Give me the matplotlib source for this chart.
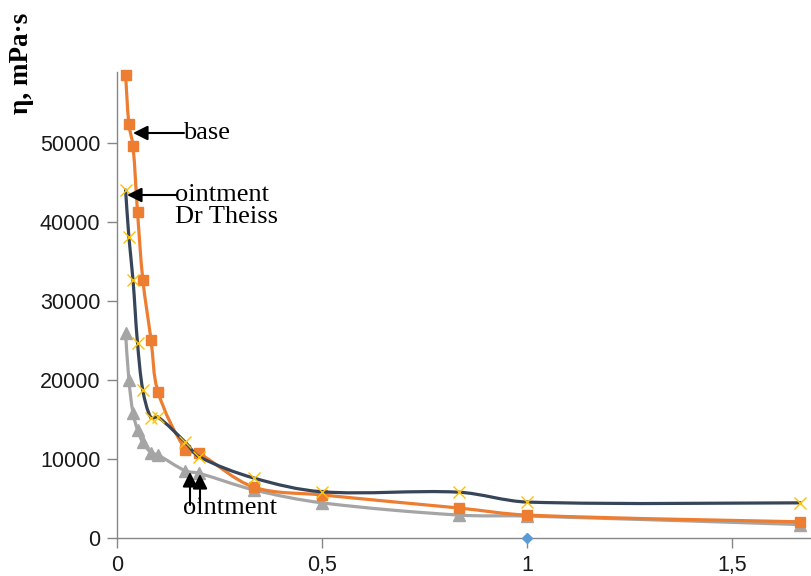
import numpy as np
import matplotlib
matplotlib.use("Agg")
import matplotlib.pyplot as plt
from matplotlib.path import Path
from matplotlib.patches import PathPatch

# ---- data ----
x_vals = [0.021, 0.029, 0.039, 0.050, 0.063, 0.083, 0.100, 0.167, 0.200, 0.333, 0.500, 0.833, 1.000, 1.667]
base = [58600, 52400, 49600, 41300, 32700, 25100, 18500, 11200, 10700, 6450, 5450, 3800, 2900, 2050]
ointment_dr_theiss = [44050, 38100, 32700, 24700, 18700, 15200, 15300, 12100, 10300, 7600, 5850, 5800, 4550, 4450]
ointment = [25900, 20000, 15800, 13700, 12100, 10800, 10500, 8500, 8200, 6100, 4450, 2900, 2780, 1700]
blue_x = [1.0]
blue_y = [0]

x_ticks = [0, 0.5, 1, 1.5]
x_ticklabels = ["0", "0,5", "1", "1,5"]
y_ticks = [0, 10000, 20000, 30000, 40000, 50000]
y_ticklabels = ["0", "10000", "20000", "30000", "40000", "50000"]

W, H = 811, 576
fig = plt.figure(figsize=(W / 100, H / 100), dpi=100)
left, right, bottom, top = 117, 811, 538, 72
ax = fig.add_axes([left / W, 1 - bottom / H, (right - left) / W, (bottom - top) / H])
ax.set_xlim(0, (right - left) / 410)
ax.set_ylim(0, (bottom - top) / 7.9 * 1000)

for s in ("top", "right"):
    ax.spines[s].set_visible(False)
for s in ("left", "bottom"):
    ax.spines[s].set_color("#868686")
    ax.spines[s].set_linewidth(1.0)

ax.set_xticks(x_ticks)
ax.set_xticklabels(x_ticklabels)
ax.set_yticks(y_ticks)
ax.set_yticklabels(y_ticklabels)
ax.tick_params(axis="both", direction="out", length=7, width=1.0, color="#868686",
               labelsize=15.5, labelcolor="#1a1a1a", pad=5)
for lab in ax.get_xticklabels() + ax.get_yticklabels():
    lab.set_fontfamily("Liberation Sans")


def smooth_line(xs, ys, color, lw, zorder):
    """Excel-like smoothed line (length-weighted Catmull-Rom -> Bezier) in display space."""
    pts = ax.transData.transform(np.column_stack([xs, ys]))
    n = len(pts)
    seg = np.linalg.norm(np.diff(pts, axis=0), axis=1)

    def tangent(i):
        if i == 0:
            return pts[1] - pts[0], seg[0], seg[0]
        if i == n - 1:
            return pts[-1] - pts[-2], seg[-1], seg[-1]
        return pts[i + 1] - pts[i - 1], seg[i - 1], seg[i]

    verts = [pts[0]]
    codes = [Path.MOVETO]
    for i in range(n - 1):
        t1, a1, b1 = tangent(i)
        t2, a2, b2 = tangent(i + 1)
        d = seg[i]
        c1 = pts[i] + t1 * (d / (a1 + b1)) / 1.5 * 0.5
        c2 = pts[i + 1] - t2 * (d / (a2 + b2)) / 1.5 * 0.5
        verts += [c1, c2, pts[i + 1]]
        codes += [Path.CURVE4] * 3
    verts = ax.transData.inverted().transform(np.array(verts))
    patch = PathPatch(Path(verts, codes), facecolor="none", edgecolor=color, lw=lw,
                      zorder=zorder, capstyle="round", joinstyle="round")
    ax.add_patch(patch)


orange = "#ED7D31"
gray = "#A5A5A5"
navy = "#36455A"
yellow = "#FFC000"

smooth_line(x_vals, ointment, gray, 2.3, 2)
ax.plot(x_vals, ointment, linestyle="none", marker="^", markersize=8, color=gray, zorder=3, clip_on=False)

smooth_line(x_vals, base, orange, 2.3, 4)
ax.plot(x_vals, base, linestyle="none", marker="s", markersize=7.5, color=orange, zorder=5, clip_on=False)

smooth_line(x_vals, ointment_dr_theiss, navy, 2.3, 6)
ax.plot(x_vals, ointment_dr_theiss, linestyle="none", marker="x", markersize=9, markeredgewidth=1.0,
        color=yellow, zorder=7, clip_on=False)

ax.plot(blue_x, blue_y, linestyle="none", marker="D", markersize=5.5, color="#5B9BD5", zorder=8, clip_on=False)


def px2data(px, py):
    return ((px - left) / 410, (bottom - py) / 7.9 * 1000)


arrow_kw = dict(arrowstyle="-|>", color="black", lw=1.5, mutation_scale=22, shrinkA=0, shrinkB=0)
serif = "Liberation Serif"

# base
ax.annotate("", xy=px2data(133, 133), xytext=px2data(184, 133), arrowprops=arrow_kw, zorder=10)
ax.text(*px2data(183, 133), "base", fontsize=19, family=serif, ha="left", va="center", zorder=10)

# ointment Dr Theiss
ax.annotate("", xy=px2data(127, 195), xytext=px2data(177, 195), arrowprops=arrow_kw, zorder=10)
ax.text(*px2data(175, 206), "ointment\nDr Theiss", fontsize=19, family=serif, ha="left", va="center",
        linespacing=1.0, zorder=10)

# ointment (bottom)
ax.annotate("", xy=px2data(190, 472), xytext=px2data(190, 505), arrowprops=arrow_kw, zorder=10)
ax.annotate("", xy=px2data(200, 474), xytext=px2data(200, 508), arrowprops=arrow_kw, zorder=10)
ax.text(*px2data(183, 508), "ointment", fontsize=19, family=serif, ha="left", va="center", zorder=10)

fig.text(22 / W, 1 - 63 / H, "η, mPa·s", rotation=90, fontsize=19.5, fontweight="bold",
         family=serif, ha="center", va="center")

fig.savefig("out.png", dpi=100)
